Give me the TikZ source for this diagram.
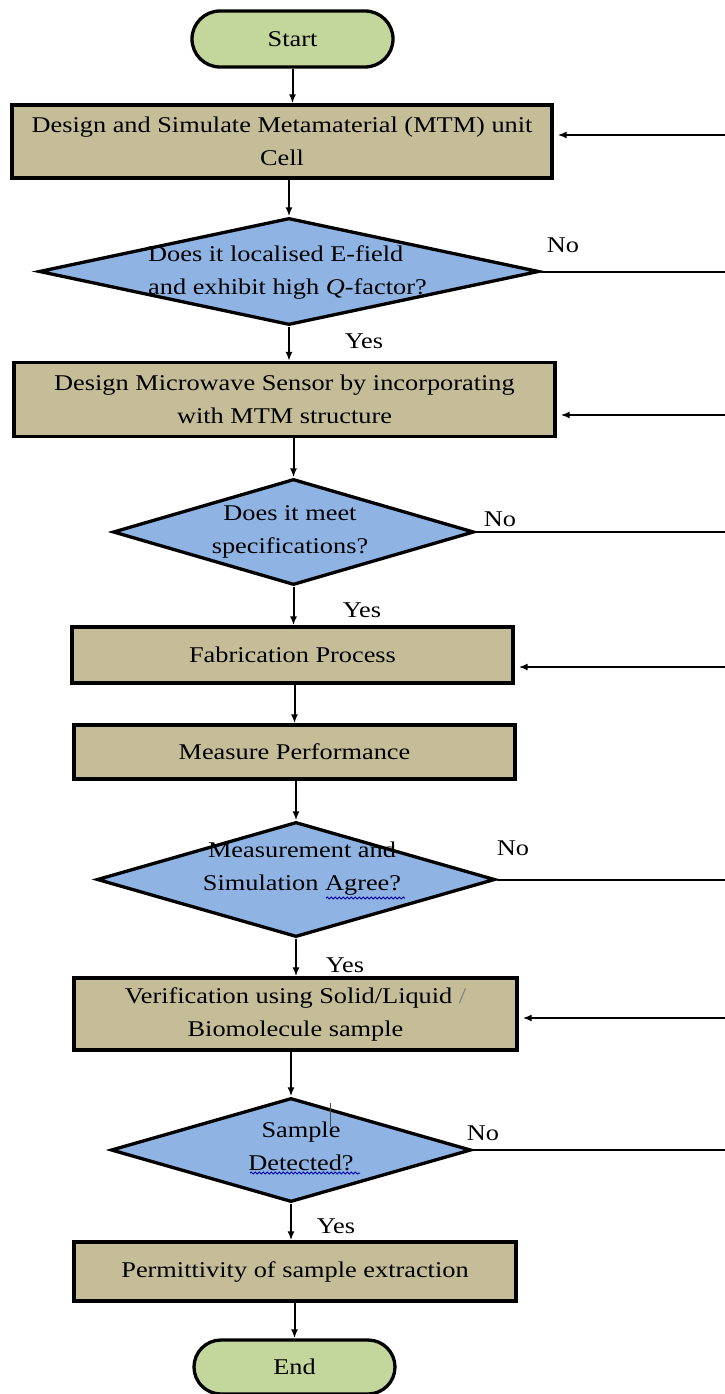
\documentclass[tikz,border=0pt]{standalone}
\usepackage{fontspec}
\setmainfont{Liberation Serif}[FakeStretch=1.17]
\usetikzlibrary{shapes.geometric, shapes.misc, arrows.meta, decorations.pathmorphing}

\definecolor{termgreen}{HTML}{C3D69B}
\definecolor{boxtan}{HTML}{C4BD97}
\definecolor{decblue}{HTML}{8FB4E3}

\begin{document}
\begin{tikzpicture}[x = 1pt, y = -1pt, > = {Latex[length = 9pt, width = 7pt]},
	every node/.style = {text = black, font = \fontsize{22.5}{33}\selectfont},
	terminal/.style = {rounded rectangle, draw, line width = 3.3pt, fill = termgreen,
		minimum width = 201pt, minimum height = 56pt, inner sep = 0pt},
	process/.style = {rectangle, draw, line width = 3.3pt, fill = boxtan, align = center, inner sep = 0pt},
	decision/.style = {diamond, draw, line width = 3.3pt, fill = decblue, inner sep = 0pt},
	flow/.style = {->, line width = 2pt},
	loop/.style = {line width = 2pt},
	answer/.style = {inner sep = 0pt}]

	\useasboundingbox (0, 0) rectangle (725, 1394);

	% Main chain

	\node [terminal] (start) at (292.5, 39) {Start};
	\node [process, minimum width = 540pt, minimum height = 73pt] (b1) at (282, 141.5)
		{Design and Simulate Metamaterial (MTM) unit\\Cell};
	\node [decision, minimum width = 500pt, minimum height = 107pt] (d1) at (289, 271.5) {};
	\node [align = left, anchor = west, inner sep = 0pt] (d1q) at (148, 273)
		{Does it localised E-field\\and exhibit high \textit{Q}-factor?};
	\node [process, minimum width = 541pt, minimum height = 74pt] (b2) at (284.5, 399.5)
		{Design Microwave Sensor by incorporating\\with MTM structure};
	\node [decision, minimum width = 361pt, minimum height = 106pt] (d2) at (293.5, 532) {};
	\node [align = center, inner sep = 0pt] (d2q) at (290, 532) {Does it meet\\specifications?};
	\node [process, minimum width = 441pt, minimum height = 56pt] (b3) at (292.5, 655) {Fabrication Process};
	\node [process, minimum width = 441pt, minimum height = 54pt] (b4) at (294.5, 752) {Measure Performance};
	\node [decision, minimum width = 398pt, minimum height = 115pt] (d3) at (296, 879.5) {};
	\node [align = center, inner sep = 0pt] (d3q) at (302, 869) {Measurement and\\Simulation Agree?};
	\node [process, minimum width = 443pt, minimum height = 72pt] (b5) at (295.5, 1014)
		{Verification using Solid/Liquid \textcolor{gray}{/}\\Biomolecule sample};
	\node [decision, minimum width = 360pt, minimum height = 104pt] (d4) at (291, 1150) {};
	\node [align = center, inner sep = 0pt] (d4q) at (301, 1146) {Sample\\Detected?};
	\node [process, minimum width = 442pt, minimum height = 59pt] (b6) at (295, 1271.5)
		{Permittivity of sample extraction};
	\node [terminal, minimum height = 54pt] (end) at (294.5, 1367) {End};

	% Yes / No labels

	\node [answer] (yes1) at (364, 341) {Yes};
	\node [answer] (yes2) at (362, 610) {Yes};
	\node [answer] (yes3) at (345, 965) {Yes};
	\node [answer] (yes4) at (336, 1226) {Yes};
	\node [answer] (no1) at (563, 245) {No};
	\node [answer] (no2) at (500, 519) {No};
	\node [answer] (no3) at (513, 848) {No};
	\node [answer] (no4) at (483, 1133) {No};

	% Downward arrows

	\draw [flow] (start.south) -- (start.south |- b1.north);
	\draw [flow] (b1.south -| d1.north) -- (d1.north);
	\draw [flow] (d1.south) -- (d1.south |- b2.north);
	\draw [flow] (b2.south -| d2.north) -- (d2.north);
	\draw [flow] (d2.south) -- (d2.south |- b3.north);
	\draw [flow] (b3.south -| b4.north) -- (b4.north);
	\draw [flow] (b4.south -| d3.north) -- (d3.north);
	\draw [flow] (d3.south) -- (d3.south |- b5.north);
	\draw [flow] (b5.south -| d4.north) -- (d4.north);
	\draw [flow] (d4.south) -- (d4.south |- b6.north);
	\draw [flow] (b6.south -| end.north) -- (end.north);

	% Feedback lines to the right edge

	\coordinate (edge) at (725, 0);
	\coordinate (in1) at (725, 135);
	\coordinate (in2) at (725, 415);
	\coordinate (in3) at (725, 667);
	\coordinate (in5) at (725, 1018);

	\begin{scope}[loop]
		\draw (d1.east) -- (d1.east -| edge);
		\draw (d2.east) -- (d2.east -| edge);
		\draw (d3.east) -- (d3.east -| edge);
		\draw (d4.east) -- (d4.east -| edge);
		\draw [->, shorten > = 4pt] (in1) -- (in1 -| b1.east);
		\draw [->, shorten > = 4pt] (in2) -- (in2 -| b2.east);
		\draw [->, shorten > = 4pt] (in3) -- (in3 -| b3.east);
		\draw [->, shorten > = 4pt] (in5) -- (in5 -| b5.east);
	\end{scope}

	% Spell-check marks and cursor

	\begin{scope}[blue!70!black, line width = 1pt, decorate,
		decoration = {snake, segment length = 4pt, amplitude = 1pt}]
		\draw [decorate] (326, 898) -- (405, 898);
		\draw [decorate] (250, 1173) -- (360, 1173);
	\end{scope}
	\draw [gray!60!black, line width = 0.8pt] (330, 1103) -- (330, 1127);

\end{tikzpicture}
\end{document}
